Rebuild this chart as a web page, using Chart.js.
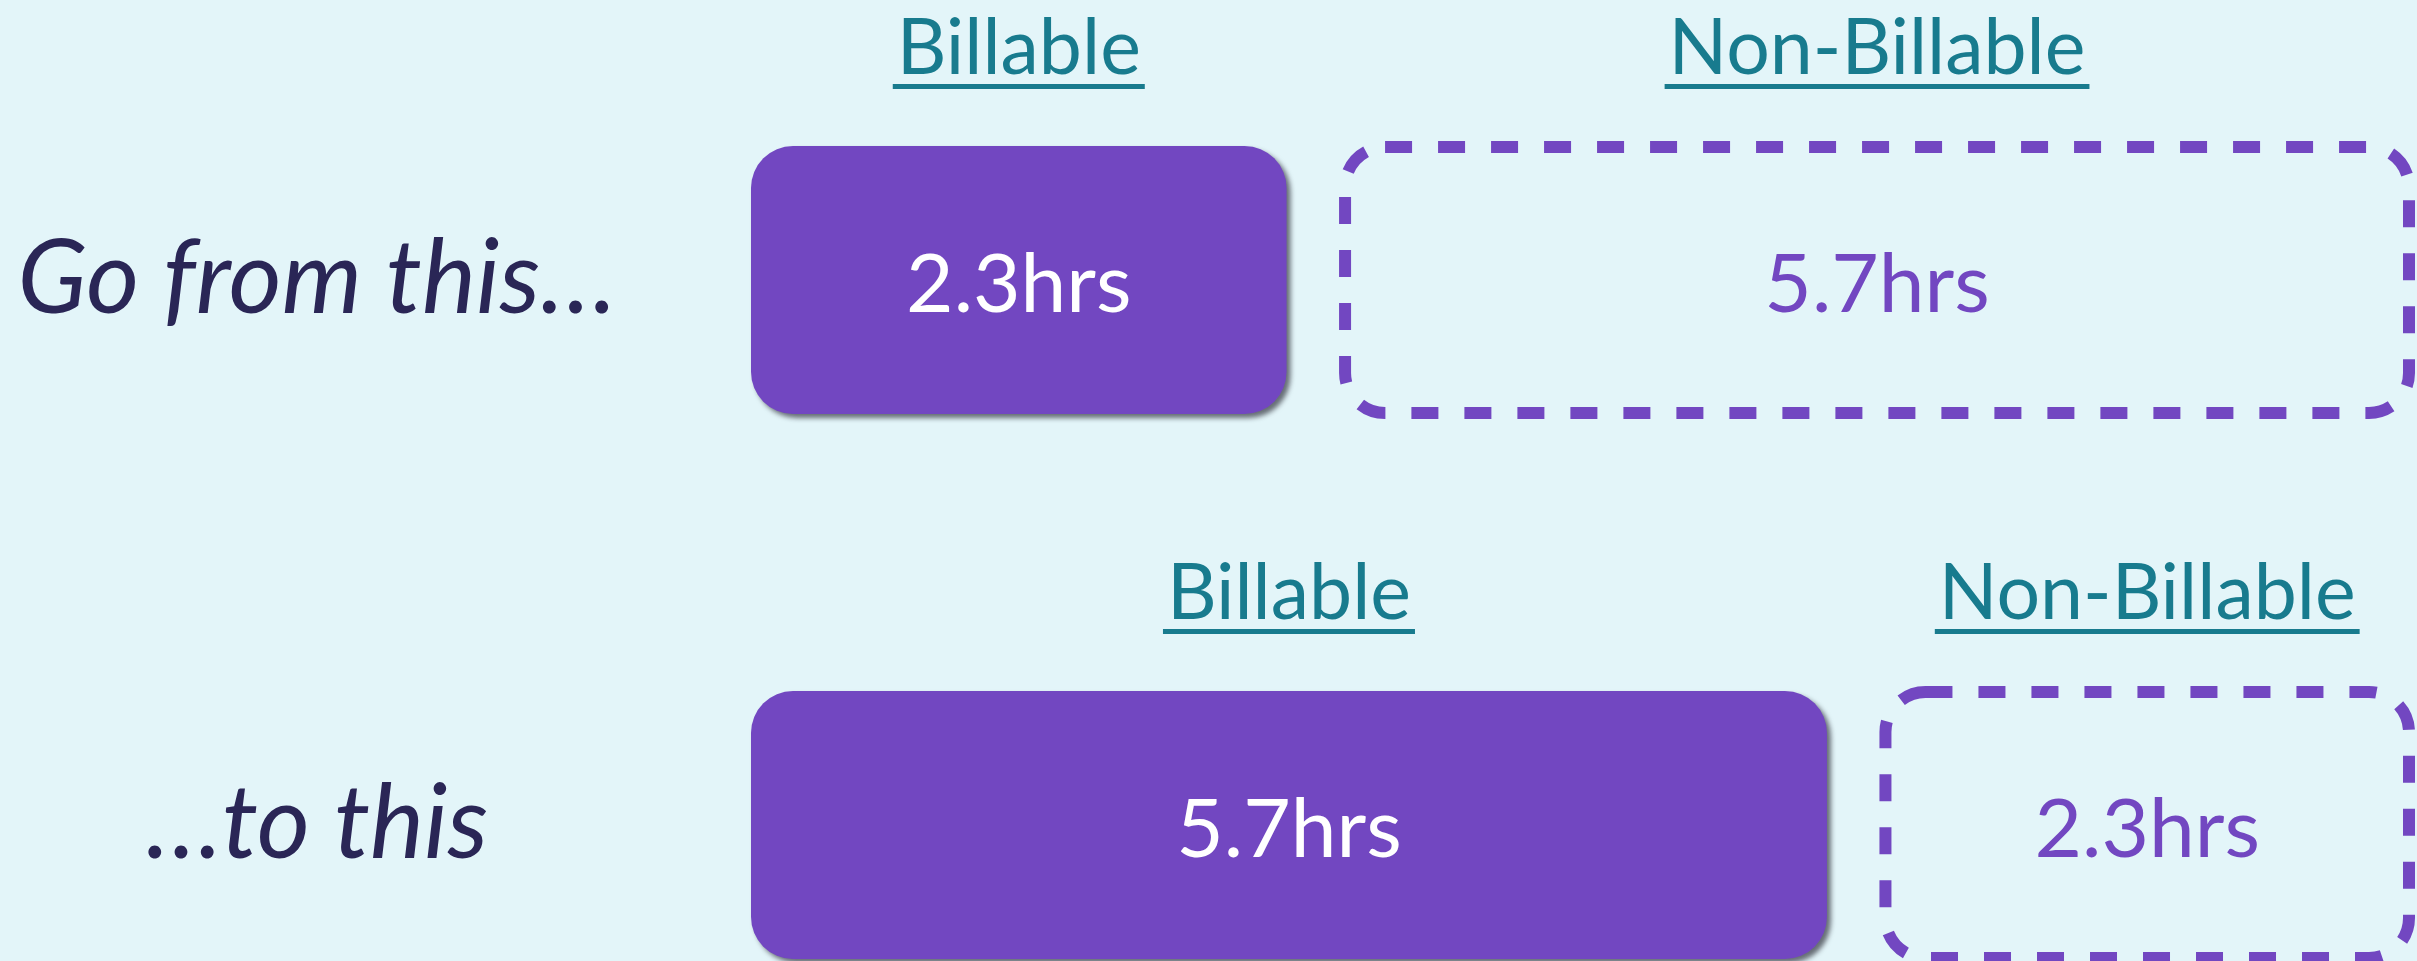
<!DOCTYPE html>
<html>
<head>
<meta charset="utf-8">
<script src="https://cdn.jsdelivr.net/npm/chart.js@4.4.1/dist/chart.umd.min.js"></script>
<style>
  html, body { margin: 0; padding: 0; background: #e3f5f9; overflow: hidden; }
  #wrap { width: 2417px; height: 961px; }
</style>
</head>
<body>
<div id="wrap"><canvas id="chart"></canvas></div>
<script>
// data
const rowLabels = ["Go from this…", "…to this"];
const seriesNames = ["Billable", "Non-Billable"];
const billableHours = [2.3, 5.7];
const nonBillableHours = [5.7, 2.3];
const unitSuffix = "hrs";

// look
const PURPLE = "#7247c1";
const TEAL = "#187b8e";
const NAVY = "#2a2656";
const FONT = "Lato, 'Open Sans', sans-serif";
const GAP_HRS = 1.4;     // space between the two boxes, in scale units
const PAD_X = 85;        // boxes are drawn a bit wider than the bar itself
const ROW_LABEL_X = 325; // centre of the left-hand labels
const CHART_LEFT = 836;
const ROW_FONT_SIZE = 102;

const rowFont = { family: FONT, size: ROW_FONT_SIZE, style: "italic" };

// floating bars: billable from 0, non-billable after the gap
const billableRanges = billableHours.map((h) => [0, h]);
const nonBillableRanges = billableHours.map((h, i) => [
  h + GAP_HRS,
  h + GAP_HRS + nonBillableHours[i],
]);
const maxTotal = Math.max(...billableHours.map((h, i) => h + nonBillableHours[i]));

// widest row label, so the labels can be centred in the left column
const measure = document.createElement("canvas").getContext("2d");
measure.font = `italic ${ROW_FONT_SIZE}px ${FONT}`;
const widestRow = Math.max(...rowLabels.map((t) => measure.measureText(t).width));

function roundRectPath(ctx, x, y, w, h, r) {
  ctx.beginPath();
  ctx.moveTo(x + r, y);
  ctx.lineTo(x + w - r, y);
  ctx.arcTo(x + w, y, x + w, y + r, r);
  ctx.lineTo(x + w, y + h - r);
  ctx.arcTo(x + w, y + h, x + w - r, y + h, r);
  ctx.lineTo(x + r, y + h);
  ctx.arcTo(x, y + h, x, y + h - r, r);
  ctx.lineTo(x, y + r);
  ctx.arcTo(x, y, x + r, y, r);
  ctx.closePath();
}

// draws the solid and dashed boxes, their hour labels and the headers
const boxesPlugin = {
  id: "boxes",
  afterDatasetsDraw(chart) {
    const ctx = chart.ctx;
    chart.data.datasets.forEach((ds, di) => {
      const meta = chart.getDatasetMeta(di);
      meta.data.forEach((bar, i) => {
        const { x, y, base, height } = bar.getProps(["x", "y", "base", "height"], true);
        const left = Math.min(x, base) - PAD_X;
        const right = Math.max(x, base) + PAD_X;
        const top = y - height / 2;
        const w = right - left;
        const cx = (left + right) / 2;
        const hours = di === 0 ? billableHours[i] : nonBillableHours[i];

        ctx.save();
        if (di === 0) {
          ctx.shadowColor = "rgba(20,20,30,0.6)";
          ctx.shadowOffsetX = 4;
          ctx.shadowOffsetY = 4;
          ctx.shadowBlur = 5;
          roundRectPath(ctx, left, top, w, height, 42);
          ctx.fillStyle = PURPLE;
          ctx.fill();
        } else {
          const lw = 12;
          roundRectPath(ctx, left + lw / 2, top + lw / 2, w - lw, height - lw, 40);
          ctx.strokeStyle = PURPLE;
          ctx.lineWidth = lw;
          ctx.setLineDash([27, 26]);
          ctx.stroke();
        }
        ctx.restore();

        // hours inside the box
        ctx.save();
        ctx.font = `82px ${FONT}`;
        ctx.textAlign = "center";
        ctx.textBaseline = "alphabetic";
        ctx.fillStyle = di === 0 ? "#ffffff" : PURPLE;
        ctx.fillText(hours + unitSuffix, cx, y + 32);

        // underlined header
        const headY = y - 206;
        ctx.font = `77px ${FONT}`;
        ctx.fillStyle = TEAL;
        ctx.fillText(ds.label, cx, headY);
        const tw = ctx.measureText(ds.label).width;
        ctx.fillRect(cx - tw / 2 - 4, headY + 10, tw + 8, 5);
        ctx.restore();
      });
    });
  },
};

new Chart(document.getElementById("chart"), {
  type: "bar",
  data: {
    labels: rowLabels,
    datasets: [
      {
        label: seriesNames[0],
        data: billableRanges,
        backgroundColor: "rgba(0,0,0,0)",
        borderWidth: 0,
        barThickness: 268,
        grouped: false,
      },
      {
        label: seriesNames[1],
        data: nonBillableRanges,
        backgroundColor: "rgba(0,0,0,0)",
        borderWidth: 0,
        barThickness: 278,
        grouped: false,
      },
    ],
  },
  options: {
    indexAxis: "y",
    responsive: true,
    maintainAspectRatio: false,
    animation: false,
    layout: { padding: { top: 280, bottom: 136, left: 0, right: 87 } },
    plugins: {
      legend: { display: false },
      tooltip: { enabled: false },
    },
    scales: {
      x: {
        type: "linear",
        min: 0,
        max: maxTotal + GAP_HRS,
        display: false,
      },
      y: {
        type: "category",
        offset: false,
        grid: { display: false },
        border: { display: false },
        ticks: {
          font: rowFont,
          color: NAVY,
          crossAlign: "center",
          padding: CHART_LEFT - ROW_LABEL_X - widestRow / 2,
        },
        afterFit(scale) {
          scale.paddingTop = 0;
          scale.paddingBottom = 0;
          scale.width = CHART_LEFT;
        },
      },
    },
  },
  plugins: [boxesPlugin],
});
</script>
</body>
</html>
